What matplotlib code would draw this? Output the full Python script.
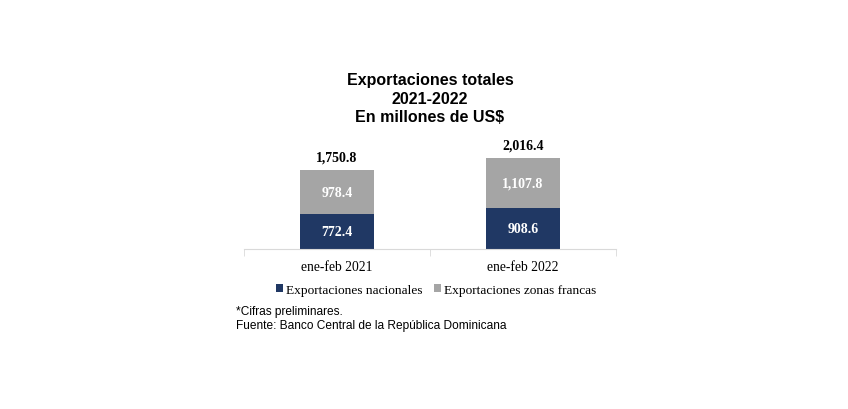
import matplotlib.pyplot as plt

categories = ['ene-feb 2021', 'ene-feb 2022']
nacionales = [772.4, 908.6]
zonas_francas = [978.4, 1107.8]
totales = [1750.8, 2016.4]

navy = '#203864'
gray = '#A5A5A5'

fig = plt.figure(figsize=(8.48, 4.10), dpi=100)
ax = fig.add_axes([244 / 848, 160 / 410, 372 / 848, 108.3 / 410])

x = range(len(categories))
ax.bar(x, nacionales, width=0.4, color=navy, label='Exportaciones nacionales')
ax.bar(x, zonas_francas, width=0.4, bottom=nacionales, color=gray,
       label='Exportaciones zonas francas')

ax.set_xlim(-0.5, 1.5)
ax.set_ylim(0, 2400)

# value labels
for i in x:
    ax.text(i, nacionales[i] / 2, f'{nacionales[i]:,.1f}', ha='center', va='center',
            color='white', fontsize=10, fontweight='bold', family='Liberation Serif')
    ax.text(i, nacionales[i] + zonas_francas[i] / 2, f'{zonas_francas[i]:,.1f}',
            ha='center', va='center', color='white', fontsize=10, fontweight='bold',
            family='Liberation Serif')
    ax.text(i, totales[i] + 140, f'{totales[i]:,.1f}', ha='center', va='bottom',
            color='black', fontsize=10, fontweight='bold', family='Liberation Serif')

# axis styling
for s in ['top', 'right', 'left']:
    ax.spines[s].set_visible(False)
ax.spines['bottom'].set_color('#D9D9D9')
ax.set_yticks([])
ax.set_xticks([-0.5, 0.5, 1.5], minor=True)
ax.tick_params(axis='x', which='minor', length=5, color='#D9D9D9')
ax.set_xticks(list(x))
ax.set_xticklabels(categories, family='Liberation Serif', fontsize=9.8)
ax.tick_params(axis='x', which='major', length=0, pad=8)

fig.text(430 / 848, 1 - 99 / 410, 'Exportaciones totales\n2021-2022\nEn millones de US$',
         ha='center', va='center', fontsize=11.5, fontweight='bold',
         family='Liberation Sans', linespacing=1.27)

fig.legend(loc='center', bbox_to_anchor=(436 / 848, 1 - 291 / 410), ncol=2,
           frameon=False, prop={'family': 'Liberation Serif', 'size': 9.6},
           handlelength=0.55, handleheight=0.55, handletextpad=0.2, columnspacing=0.9)

fig.text(236 / 848, 1 - 312 / 410, '*Cifras preliminares.', ha='left', va='center',
         fontsize=8.6, family='Liberation Sans')
fig.text(236 / 848, 1 - 326 / 410, 'Fuente: Banco Central de la República Dominicana',
         ha='left', va='center', fontsize=8.6, family='Liberation Sans')

fig.savefig('out.png', dpi=100, facecolor='white')
